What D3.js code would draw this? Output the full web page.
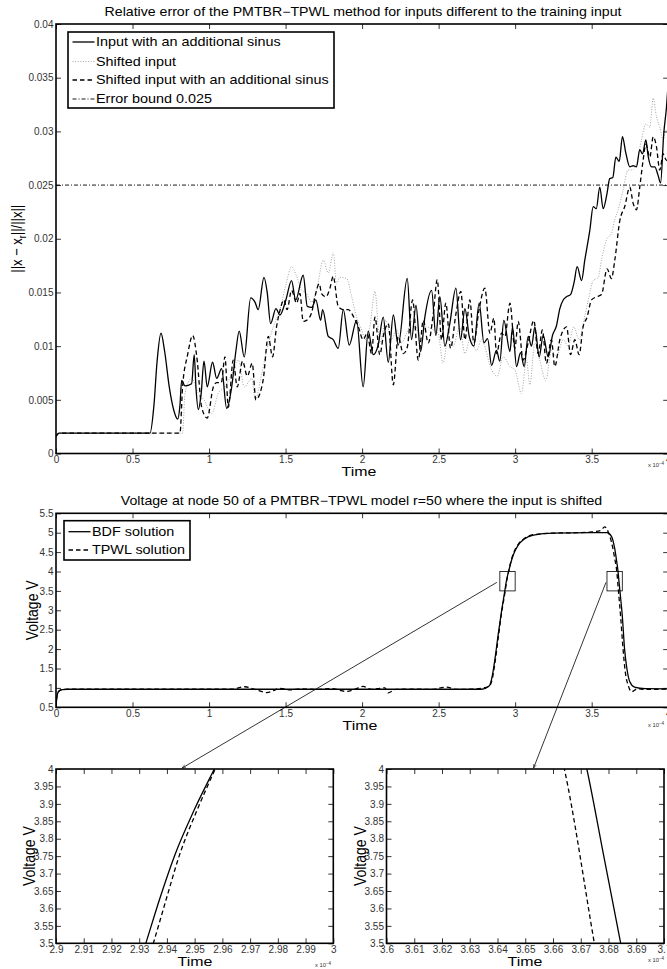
<!DOCTYPE html>
<html>
<head>
<meta charset="utf-8">
<script src="https://cdn.jsdelivr.net/npm/d3@7"></script>
<style>
  body { margin: 0; background: #fff; }
  svg { display: block; font-family: "Liberation Sans", Arial, sans-serif; }
</style>
</head>
<body>
<svg width="667" height="969"></svg>
<script>
// time values are in units of 1e-4 s (the "x 10^-4" factor on the axes)

// --- top chart: relative error ---
const sinusT = [0,0.02,0.3,0.614,0.64,0.66,0.686,0.71,0.74,0.77,0.795,0.81,0.821,0.843,0.886,0.903,0.915,0.93,0.948,0.967,0.988,1.023,1.05,1.082,1.115,1.148,1.175,1.197,1.23,1.272,1.3,1.321,1.359,1.38,1.402,1.437,1.463,1.502,1.539,1.566,1.615,1.642,1.67,1.698,1.729,1.742,1.779,1.811,1.844,1.877,1.916,1.964,2.007,2.04,2.073,2.105,2.138,2.171,2.204,2.236,2.295,2.323,2.352,2.382,2.41,2.454,2.482,2.508,2.541,2.573,2.613,2.643,2.672,2.7,2.73,2.765,2.796,2.82,2.846,2.878,2.9,2.926,2.966,2.983,3.009,3.035,3.059,3.085,3.107,3.129,3.157,3.183,3.216,3.244,3.27,3.292,3.314,3.335,3.362,3.386,3.405,3.434,3.455,3.488,3.51,3.53,3.553,3.575,3.6,3.618,3.638,3.658,3.68,3.701,3.723,3.749,3.771,3.793,3.814,3.832,3.854,3.869,3.891,3.912,3.934,3.95,3.971,3.989,4.0]
const sinusErr = [0.0016,0.0019,0.0019,0.0019,0.0045,0.0085,0.0112,0.0095,0.0062,0.004,0.0032,0.0045,0.0068,0.0063,0.0065,0.0092,0.006,0.0041,0.0055,0.0086,0.0062,0.0085,0.007,0.0079,0.0042,0.0062,0.0095,0.0114,0.009,0.0145,0.0141,0.0134,0.0164,0.015,0.0121,0.0135,0.0129,0.0143,0.0161,0.0143,0.0166,0.0137,0.0136,0.0143,0.0124,0.0134,0.0109,0.0106,0.0098,0.0134,0.0101,0.0124,0.0062,0.0114,0.0092,0.0101,0.0127,0.0085,0.0129,0.0101,0.0163,0.0106,0.0138,0.0095,0.0127,0.0152,0.011,0.0146,0.01,0.0121,0.0154,0.0106,0.0135,0.0109,0.01,0.014,0.0103,0.0107,0.0082,0.0096,0.0086,0.0124,0.0095,0.0118,0.0081,0.0094,0.0081,0.0109,0.01,0.0118,0.009,0.011,0.009,0.011,0.0119,0.0135,0.0143,0.0146,0.0148,0.016,0.0174,0.0161,0.018,0.0208,0.023,0.0228,0.0248,0.0228,0.0242,0.0256,0.0257,0.0276,0.0272,0.0295,0.028,0.0267,0.0268,0.0267,0.0283,0.0279,0.0292,0.0277,0.0267,0.0267,0.0259,0.0252,0.0298,0.0323,0.0345]

const shiftT = [0,0.02,0.827,0.843,0.886,0.93,0.967,1.017,1.06,1.104,1.148,1.192,1.23,1.28,1.3,1.344,1.376,1.42,1.463,1.502,1.539,1.572,1.605,1.637,1.67,1.703,1.746,1.779,1.812,1.833,1.855,1.899,1.932,1.964,1.997,2.025,2.051,2.084,2.116,2.155,2.192,2.225,2.258,2.29,2.334,2.378,2.421,2.465,2.497,2.529,2.562,2.595,2.638,2.672,2.704,2.748,2.78,2.846,2.883,2.922,2.966,2.998,3.041,3.074,3.096,3.129,3.161,3.2,3.237,3.27,3.314,3.346,3.383,3.418,3.449,3.478,3.51,3.543,3.564,3.597,3.63,3.651,3.673,3.705,3.738,3.762,3.793,3.825,3.854,3.88,3.902,3.923,3.945,3.967,3.985,4.0]
const shiftErr = [0.0016,0.0019,0.0019,0.0056,0.007,0.0056,0.005,0.0037,0.0056,0.0062,0.0074,0.0087,0.0062,0.007,0.005,0.0074,0.0096,0.0118,0.0134,0.0157,0.0174,0.0165,0.0152,0.0149,0.0141,0.0152,0.018,0.0168,0.0187,0.0158,0.0164,0.0163,0.0146,0.0127,0.0115,0.0106,0.0118,0.0151,0.0103,0.0124,0.0106,0.0115,0.0103,0.0112,0.0124,0.0109,0.0118,0.0115,0.0112,0.0084,0.0109,0.01,0.0118,0.0093,0.0106,0.0096,0.0106,0.0078,0.0072,0.009,0.0081,0.0078,0.0056,0.0087,0.0064,0.0103,0.0087,0.0068,0.0096,0.009,0.0106,0.01,0.0118,0.0106,0.0124,0.0143,0.0161,0.0164,0.018,0.0199,0.0205,0.0218,0.0227,0.0245,0.0264,0.0264,0.027,0.0292,0.0307,0.0304,0.0331,0.0314,0.0304,0.0292,0.0301,0.0295]

const shiftSinusT = [0,0.02,0.81,0.827,0.86,0.893,0.92,0.952,0.988,1.028,1.05,1.08,1.104,1.126,1.158,1.184,1.219,1.25,1.282,1.306,1.33,1.354,1.387,1.415,1.441,1.465,1.489,1.51,1.539,1.572,1.594,1.615,1.637,1.67,1.692,1.72,1.735,1.764,1.79,1.811,1.844,1.877,1.91,1.942,1.975,2.007,2.033,2.062,2.084,2.116,2.138,2.171,2.204,2.236,2.269,2.295,2.33,2.367,2.4,2.432,2.465,2.491,2.519,2.547,2.578,2.613,2.645,2.672,2.704,2.73,2.763,2.802,2.835,2.861,2.878,2.911,2.933,2.966,2.998,3.02,3.052,3.085,3.122,3.15,3.178,3.204,3.237,3.259,3.292,3.336,3.362,3.39,3.418,3.444,3.47,3.499,3.532,3.564,3.601,3.629,3.651,3.684,3.716,3.749,3.771,3.793,3.814,3.836,3.854,3.88,3.902,3.923,3.945,3.967,3.989,4.0]
const shiftSinusErr = [0.0016,0.0019,0.0019,0.0062,0.0092,0.011,0.009,0.0043,0.0033,0.0062,0.0066,0.0066,0.009,0.0043,0.0087,0.0062,0.0086,0.0072,0.0084,0.005,0.0055,0.0069,0.0109,0.009,0.0118,0.0134,0.0143,0.0134,0.0152,0.014,0.0149,0.0123,0.0124,0.0131,0.0146,0.0158,0.0149,0.0146,0.0154,0.0165,0.0137,0.0134,0.0134,0.0128,0.0118,0.0106,0.0112,0.0093,0.0127,0.0092,0.0109,0.0121,0.0064,0.0109,0.0093,0.0099,0.0143,0.0087,0.0124,0.0103,0.013,0.0162,0.0106,0.014,0.0098,0.013,0.0151,0.0106,0.0143,0.0103,0.0133,0.0154,0.0112,0.0126,0.0093,0.0112,0.0109,0.014,0.0098,0.0123,0.0087,0.0103,0.0124,0.0093,0.0115,0.0084,0.0106,0.0081,0.0106,0.0118,0.0092,0.0106,0.0092,0.0118,0.0127,0.0143,0.0146,0.0148,0.0172,0.0163,0.018,0.0217,0.023,0.0248,0.0233,0.0227,0.0248,0.0273,0.0288,0.0276,0.0295,0.0286,0.0264,0.0279,0.0273,0.0275]

const errorBound = 0.025
const errTicksX = [0, 0.5, 1, 1.5, 2, 2.5, 3, 3.5, 4]
const errTicksY = [0, 0.005, 0.01, 0.015, 0.02, 0.025, 0.03, 0.035, 0.04]
const errLegend = ["Input with an additional sinus", "Shifted input", "Shifted input with an additional sinus", "Error bound 0.025"]

// --- voltage at node 50 ---
const bdfT = [0,0.005,0.01,0.02,0.04,0.08,2.78,2.83,2.85,2.87,2.89,2.91,2.9324,2.9375,2.9427,2.9497,2.9571,2.97,2.99,3.02,3.06,3.12,3.25,3.5,3.6,3.63,3.65,3.662,3.6722,3.6783,3.6844,3.7,3.715,3.73,3.75,3.78,3.85,4.0]
const bdfV = [0.5,0.75,0.85,0.92,0.955,0.965,0.965,1.05,1.3,1.8,2.4,2.95,3.5,3.63,3.75,3.88,4.0,4.2,4.45,4.68,4.84,4.94,4.99,5.0,5.0,4.9,4.6,4.3,4.0,3.75,3.5,2.86,2.0,1.5,1.15,1.02,0.98,0.975]
const tpwlT = [0,0.005,0.01,0.02,0.04,0.08,1.15,1.234,1.3,1.378,1.42,1.464,1.53,1.6,1.7,1.8,1.897,1.95,2.006,2.06,2.1,2.15,2.169,2.22,2.35,2.45,2.55,2.62,2.72,2.79,2.83,2.85,2.87,2.89,2.91,2.9351,2.9397,2.9444,2.9505,2.9574,2.97,2.99,3.02,3.06,3.12,3.25,3.4,3.5,3.56,3.585,3.61,3.63,3.65,3.6641,3.6749,3.69,3.705,3.72,3.74,3.76,3.8,3.85,4.0]
const tpwlV = [0.5,0.75,0.85,0.92,0.955,0.965,0.965,1.03,0.96,0.88,0.93,0.99,0.95,0.975,0.96,0.98,0.91,0.96,1.04,0.96,0.98,1.0,0.87,0.96,0.97,0.96,1.02,0.96,0.97,1.0,1.04,1.22,1.7,2.3,2.9,3.5,3.625,3.75,3.875,4.0,4.22,4.48,4.7,4.85,4.95,4.99,5.0,5.02,5.06,5.15,5.0,4.75,4.35,4.0,3.5,2.8,2.0,1.4,1.05,0.9,0.98,0.96,0.97]
const voltTicksX = [0, 0.5, 1, 1.5, 2, 2.5, 3, 3.5, 4]
const voltTicksY = [0.5, 1, 1.5, 2, 2.5, 3, 3.5, 4, 4.5, 5, 5.5]
const voltLegend = ["BDF solution", "TPWL solution"]

// zoom windows (time, voltage)
const zoomRise = [2.9, 3.0]
const zoomFall = [3.6, 3.7]
const zoomV = [3.5, 4]
const zoomTicksY = [3.5, 3.55, 3.6, 3.65, 3.7, 3.75, 3.8, 3.85, 3.9, 3.95, 4]
const riseTicksX = [2.9, 2.91, 2.92, 2.93, 2.94, 2.95, 2.96, 2.97, 2.98, 2.99, 3]
const fallTicksX = [3.6, 3.61, 3.62, 3.63, 3.64, 3.65, 3.66, 3.67, 3.68, 3.69, 3.7]
// arrow targets on the zoom panels' top edge
const arrowRiseT = 2.9455
const arrowFallT = 3.653

const svg = d3.select("svg")
const FONT = "'Liberation Sans', Arial, sans-serif"
// the figure is a little wider than tall, text is stretched the same way
const STRETCH = 1.18

const pts = (xs, ys) => xs.map((x, i) => [x, ys[i]])

// horizontal text, stretched
const stext = function(g, x, y, size, anchor) {
  return g.append("text")
    .attr("transform", `translate(${x},${y}) scale(${STRETCH},1)`)
    .attr("text-anchor", anchor).attr("font-size", size).attr("font-family", FONT)
}

let clipId = 0
// draws a matlab-like axes box, returns scales and a clipped layer
const makeAxes = function(o) {
  const x = d3.scaleLinear().domain(o.xd).range([o.left, o.right])
  const y = d3.scaleLinear().domain(o.yd).range([o.bottom, o.top])
  const g = svg.append("g")
  const fmt = d => String(+d.toFixed(4))

  const id = "clip" + (clipId++)
  svg.append("clipPath").attr("id", id).append("rect")
    .attr("x", o.left).attr("y", o.top)
    .attr("width", o.right - o.left).attr("height", o.bottom - o.top)
  const layer = g.append("g").attr("clip-path", `url(#${id})`)

  const ax = g.append("g").attr("font-size", 6.2).attr("font-family", FONT)
  ax.append("g").attr("transform", `translate(0,${o.bottom})`)
    .call(d3.axisBottom(x).tickValues(o.xt).tickSize(-5).tickPadding(2.5).tickFormat(fmt))
  ax.append("g").attr("transform", `translate(0,${o.top})`)
    .call(d3.axisTop(x).tickValues(o.xt).tickSize(-5).tickFormat(""))
  ax.append("g").attr("transform", `translate(${o.left},0)`)
    .call(d3.axisLeft(y).tickValues(o.yt).tickSize(-5).tickPadding(2.5).tickFormat(fmt))
  ax.append("g").attr("transform", `translate(${o.right},0)`)
    .call(d3.axisRight(y).tickValues(o.yt).tickSize(-5).tickFormat(""))
  ax.selectAll(".domain").remove()
  ax.selectAll(".tick line").attr("stroke", "#000").attr("stroke-width", 0.8)
  ax.selectAll(".tick text").attr("fill", "#333")

  g.append("rect")
    .attr("x", o.left).attr("y", o.top)
    .attr("width", o.right - o.left).attr("height", o.bottom - o.top)
    .attr("fill", "none").attr("stroke", "#000").attr("stroke-width", 1.6)

  // x label and exponent
  stext(g, o.xlabelX, o.bottom + 22.5, 13.5, "middle").text("Time")
  const ex = g.append("text").attr("x", o.expX).attr("y", o.bottom + o.expDy)
    .attr("font-size", 5.8).attr("font-family", FONT).attr("fill", "#333")
  ex.append("tspan").text("x 10")
  ex.append("tspan").attr("dy", -2.5).attr("font-size", 4.5).text("−4")

  // y label (rotated, glyphs widened along x)
  const yl = g.append("text")
    .attr("transform", `translate(${o.ylabelX},${(o.top + o.bottom) / 2}) rotate(-90) scale(1,${STRETCH})`)
    .attr("text-anchor", "middle").attr("font-size", o.ylabelSize).attr("font-family", FONT)
  o.ylabel(yl)

  if (o.title) {
    stext(g, o.titleX, o.top - 8, 12, "middle").text(o.title)
  }
  return {x, y, layer, g}
}

const drawLine = function(a, data, st) {
  a.layer.append("path")
    .datum(data)
    .attr("fill", "none")
    .attr("stroke", st.stroke)
    .attr("stroke-width", st.width)
    .attr("stroke-dasharray", st.dash)
    .attr("stroke-linejoin", "round")
    .attr("d", d3.line().x(d => a.x(d[0])).y(d => a.y(d[1])).curve(d3.curveMonotoneX))
}

const styles = {
  solid: {stroke: "#000", width: 1.3, dash: null},
  dotted: {stroke: "#9a9a9a", width: 0.9, dash: "1,1.6"},
  dashed: {stroke: "#000", width: 1.3, dash: "4.5,3"},
  dashdot: {stroke: "#000", width: 0.9, dash: "4,2,1,2"}
}

const drawLegend = function(x0, y0, w, h, labels, st, rowY) {
  const lg = svg.append("g")
  lg.append("rect").attr("x", x0).attr("y", y0).attr("width", w).attr("height", h)
    .attr("fill", "#fff").attr("stroke", "#000").attr("stroke-width", 1.6)
  labels.forEach((lab, i) => {
    const yy = y0 + rowY[i]
    lg.append("line").attr("x1", x0 + 4.5).attr("x2", x0 + 26.5).attr("y1", yy).attr("y2", yy)
      .attr("stroke", st[i].stroke).attr("stroke-width", st[i].width).attr("stroke-dasharray", st[i].dash)
    stext(lg, x0 + 28, yy, 12.2, "start").attr("dy", "0.36em").text(lab)
  })
}

// ---------- top chart ----------
const err = makeAxes({
  left: 56, right: 668.2, top: 24, bottom: 453.5,
  xd: [0, 4], yd: [0, 0.04], xt: errTicksX, yt: errTicksY,
  xlabelX: 359, expX: 648, expDy: 13.5,
  title: "Relative error of the PMTBR−TPWL method for inputs different to the training input",
  titleX: 363,
  ylabelX: 22, ylabelSize: 13,
  ylabel: t => {
    t.append("tspan").text("||x − x")
    t.append("tspan").attr("dy", 3.5).attr("font-size", 9).text("r")
    t.append("tspan").attr("dy", -3.5).text("||/||x||")
  }
})
err.layer.append("line")
  .attr("x1", err.x(0)).attr("x2", err.x(4))
  .attr("y1", err.y(errorBound)).attr("y2", err.y(errorBound))
  .attr("stroke", styles.dashdot.stroke).attr("stroke-width", styles.dashdot.width)
  .attr("stroke-dasharray", styles.dashdot.dash)
drawLine(err, pts(shiftT, shiftErr), styles.dotted)
drawLine(err, pts(shiftSinusT, shiftSinusErr), styles.dashed)
drawLine(err, pts(sinusT, sinusErr), styles.solid)
drawLegend(68, 32, 266, 76, errLegend, [styles.solid, styles.dotted, styles.dashed, styles.dashdot], [10, 29.5, 48, 67])

// ---------- voltage chart ----------
const volt = makeAxes({
  left: 56, right: 668.2, top: 513.3, bottom: 707.3,
  xd: [0, 4], yd: [0.5, 5.5], xt: voltTicksX, yt: voltTicksY,
  xlabelX: 360, expX: 648, expDy: 20,
  title: "Voltage at node 50 of a PMTBR−TPWL model r=50 where the input is shifted",
  titleX: 361.5,
  ylabelX: 37.5, ylabelSize: 14,
  ylabel: t => t.text("Voltage V")
})
drawLine(volt, pts(tpwlT, tpwlV), styles.dashed)
drawLine(volt, pts(bdfT, bdfV), styles.solid)
drawLegend(64, 520.7, 126, 39.3, voltLegend, [styles.solid, styles.dashed], [11, 29.3])

// zoom boxes on the voltage chart
;[zoomRise, zoomFall].forEach(r => {
  svg.append("rect")
    .attr("x", volt.x(r[0])).attr("y", volt.y(zoomV[1]))
    .attr("width", volt.x(r[1]) - volt.x(r[0])).attr("height", volt.y(zoomV[0]) - volt.y(zoomV[1]))
    .attr("fill", "none").attr("stroke", "#000").attr("stroke-width", 0.8)
})

// ---------- zoom panels ----------
const rise = makeAxes({
  left: 56, right: 333.3, top: 769, bottom: 943.3,
  xd: zoomRise, yd: zoomV, xt: riseTicksX, yt: zoomTicksY,
  xlabelX: 195, expX: 315, expDy: 24,
  ylabelX: 35, ylabelSize: 14,
  ylabel: t => t.text("Voltage V")
})
drawLine(rise, pts(tpwlT, tpwlV), styles.dashed)
drawLine(rise, pts(bdfT, bdfV), styles.solid)

const fall = makeAxes({
  left: 386.5, right: 664, top: 769, bottom: 943.3,
  xd: zoomFall, yd: zoomV, xt: fallTicksX, yt: zoomTicksY,
  xlabelX: 525, expX: 648, expDy: 19,
  ylabelX: 366, ylabelSize: 14,
  ylabel: t => t.text("Voltage V")
})
drawLine(fall, pts(tpwlT, tpwlV), styles.dashed)
drawLine(fall, pts(bdfT, bdfV), styles.solid)

// arrows from the boxes to the zoom panels
svg.append("defs").append("marker")
  .attr("id", "head").attr("viewBox", "0 0 10 10").attr("refX", 10).attr("refY", 5)
  .attr("markerWidth", 5).attr("markerHeight", 5).attr("orient", "auto")
  .append("path").attr("d", "M0,1 L10,5 L0,9").attr("fill", "none").attr("stroke", "#000").attr("stroke-width", 1.2)

const arrows = [
  {from: [volt.x(zoomRise[0]) - 3, volt.y(3.72)], to: [rise.x(arrowRiseT), rise.y(4) - 1]},
  {from: [volt.x(zoomFall[0]) - 1, volt.y(3.72)], to: [fall.x(arrowFallT), fall.y(4) - 1]}
]
arrows.forEach(a => {
  svg.append("line")
    .attr("x1", a.from[0]).attr("y1", a.from[1]).attr("x2", a.to[0]).attr("y2", a.to[1])
    .attr("stroke", "#000").attr("stroke-width", 0.8).attr("marker-end", "url(#head)")
})
</script>
</body>
</html>
